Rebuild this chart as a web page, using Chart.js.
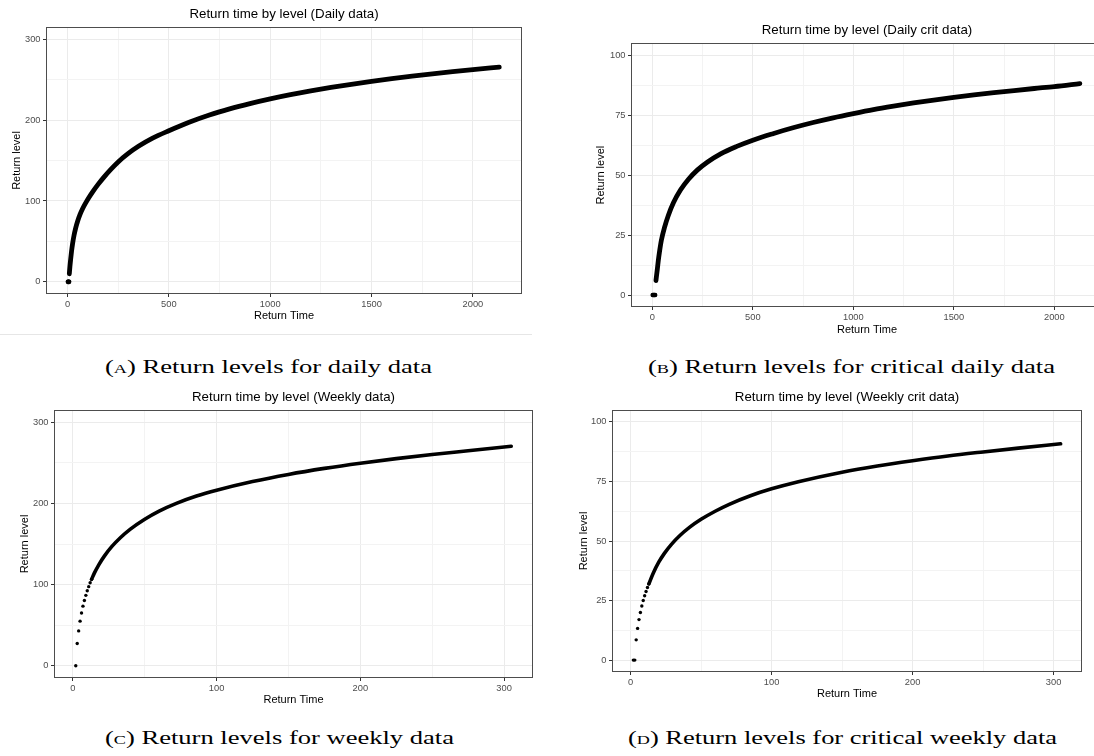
<!DOCTYPE html>
<html>
<head>
<meta charset="utf-8">
<title>Return levels</title>
<style>
    html, body { margin: 0; padding: 0; background: #fff; }
    body { width: 1094px; height: 756px; position: relative; overflow: hidden; }
    canvas { position: absolute; }
    .caption {
        position: absolute;
        font-family: "Liberation Serif", serif;
        font-size: 19px;
        line-height: 1;
        color: #000;
        white-space: nowrap;
        transform-origin: 0 0;
    }
    .sc { font-variant: small-caps; }
    .rule { position: absolute; left: 0; top: 334px; width: 532px; height: 1px; background: #e6e6e6; }
</style>
</head>
<body>
    <canvas id="chartA"></canvas>
    <canvas id="chartB"></canvas>
    <canvas id="chartC"></canvas>
    <canvas id="chartD"></canvas>
    <div class="rule"></div>

    <div class="caption" data-left="105" data-width="327" style="top:357px">(<span class="sc">a</span>) Return levels for daily data</div>
    <div class="caption" data-left="648" data-width="407" style="top:357px">(<span class="sc">b</span>) Return levels for critical daily data</div>
    <div class="caption" data-left="105" data-width="349" style="top:728px">(<span class="sc">c</span>) Return levels for weekly data</div>
    <div class="caption" data-left="628" data-width="429" style="top:728px">(<span class="sc">d</span>) Return levels for critical weekly data</div>

<script src="https://cdn.jsdelivr.net/npm/chart.js"></script>
<script>
    // values (return time, return level)
    const dailyTime  = [2, 4, 6, 8, 9, 12, 16, 20, 25, 32, 40, 50, 62, 75, 90, 105, 125, 150, 180, 215, 250, 300, 350, 420, 500, 600, 700, 800, 900, 1000, 1100, 1200, 1300, 1400, 1500, 1600, 1700, 1800, 1900, 2000, 2130];
    const dailyLevel = [0, 0, 0, 0, 10, 19, 29, 37.8, 47, 57.2, 66.2, 75, 83.4, 90.7, 97.7, 104, 111.6, 120.2, 129.5, 139.3, 148.2, 158.7, 167.5, 177.6, 186.8, 197.3, 206.3, 213.8, 220.3, 226.1, 231.3, 236, 240.3, 244.2, 247.8, 251.1, 254.2, 257.1, 259.8, 262.3, 265.4];

    const critDailyTime  = [2, 5, 8, 11, 14, 18, 25, 30, 35, 45, 60, 80, 105, 140, 180, 225, 275, 340, 420, 500, 600, 700, 800, 900, 1000, 1100, 1200, 1300, 1400, 1500, 1600, 1700, 1800, 1900, 2000, 2127];
    const critDailyLevel = [0, 0, 0, 0, 0, 6, 10.8, 14.5, 17.6, 22.8, 28, 33.3, 38.5, 43.8, 48.3, 52.2, 55.5, 58.9, 62, 64.6, 67.3, 69.75, 71.95, 73.9, 75.65, 77.3, 78.75, 80.1, 81.3, 82.4, 83.45, 84.4, 85.3, 86.15, 86.95, 88.2];

    const weeklyTime  = [2, 3, 4, 5, 6, 7, 8, 9, 10, 11, 12, 13, 15, 18, 22, 27, 33, 40, 50, 60, 72, 86, 100, 125, 150, 175, 200, 225, 250, 275, 305];
    const weeklyLevel = [0, 27.5, 43, 55, 65, 73.5, 80.5, 86.8, 92.4, 97.5, 102.2, 106.5, 114.4, 124.4, 135.4, 146.7, 157.7, 168.3, 180.5, 190.5, 200, 209, 216.2, 226.9, 235.7, 243.1, 249.5, 255.1, 260.2, 264.8, 270.3];

    const critWeeklyTime  = [2, 3, 4, 5, 6, 7, 8, 9, 10, 11, 12, 13, 16, 20, 24, 29, 35, 42, 50, 60, 70, 85, 100, 119, 150, 175, 200, 225, 250, 275, 305];
    const critWeeklyLevel = [0, 0, 8.5, 13.3, 17, 20, 22.7, 25, 27, 28.8, 30.5, 32, 36.4, 41.1, 44.8, 48.6, 52.3, 55.8, 59.1, 62.5, 65.4, 69, 71.9, 74.9, 78.9, 81.5, 83.7, 85.7, 87.4, 89, 90.8];

    // tick values (major get labels, minor only grid lines)
    const dayTicks    = [0, 500, 1000, 1500, 2000];
    const dayMinor    = [250, 750, 1250, 1750];
    const weekTicks   = [0, 100, 200, 300];
    const weekMinor   = [50, 150, 250];
    const levelTicks  = [0, 100, 200, 300];
    const levelMinor  = [50, 150, 250];
    const critTicks   = [0, 25, 50, 75, 100];
    const critMinor   = [12.5, 37.5, 62.5, 87.5];

    const FONT = "'Liberation Sans', Arial, sans-serif";
    const TITLE_SIZE = 13.3, AXIS_SIZE = 11, TICK_SIZE = 9.3;

    function pts(xs, ys, from, to) {
        const out = [];
        for (let i = from; i < to; i++) out.push({x: xs[i], y: ys[i]});
        return out;
    }

    // panel border like theme_bw
    const framePlugin = {
        id: 'frame',
        afterDatasetsDraw(chart) {
            const a = chart.chartArea, ctx = chart.ctx;
            ctx.save();
            ctx.strokeStyle = '#4d4d4d';
            ctx.lineWidth = 1;
            ctx.strokeRect(Math.round(a.left) + 0.5, Math.round(a.top) + 0.5,
                Math.round(a.right - a.left) - 1, Math.round(a.bottom - a.top) - 1);
            ctx.restore();
        }
    };

    function makeScale(range, major, minor, pad) {
        const all = major.concat(minor).sort((a, b) => a - b);
        const isMajor = v => major.indexOf(v) >= 0;
        return {
            type: 'linear',
            min: range[0],
            max: range[1],
            afterBuildTicks: s => { s.ticks = all.map(v => ({value: v})); },
            ticks: {
                autoSkip: false, maxRotation: 0, padding: pad,
                color: '#4d4d4d', font: {family: FONT, size: TICK_SIZE},
                callback: v => isMajor(v) ? String(v) : ''
            },
            grid: {
                color: c => (c.tick && isMajor(c.tick.value)) ? '#ebebeb' : '#f3f3f3',
                lineWidth: 1,
                tickLength: 3,
                tickColor: c => (c.tick && isMajor(c.tick.value)) ? '#333333' : 'rgba(0,0,0,0)'
            },
            border: { display: false }
        };
    }

    function makeChart(p) {
        const cv = document.getElementById(p.id);
        cv.width = p.box.w;
        cv.height = p.box.h;
        cv.style.left = p.box.x + 'px';
        cv.style.top = p.box.y + 'px';

        const tLH = TITLE_SIZE * 1.2, aLH = AXIS_SIZE * 1.2;
        const xs = makeScale(p.xRange, p.xMajor, p.xMinor, 1.5);
        xs.position = 'bottom';
        xs.afterFit = s => { s.height = p.box.y + p.box.h - p.frame.b; };
        xs.title = {
            display: true, text: 'Return Time', color: '#000',
            font: {family: FONT, size: AXIS_SIZE},
            padding: {top: 0, bottom: p.box.y + p.box.h - p.xTitleY - aLH / 2}
        };
        const ys = makeScale(p.yRange, p.yMajor, p.yMinor, 2.5);
        ys.position = 'left';
        ys.afterFit = s => { s.width = p.frame.l - p.box.x; };
        ys.title = {
            display: true, text: 'Return level', color: '#000',
            font: {family: FONT, size: AXIS_SIZE},
            padding: {top: p.yTitleX - p.box.x - aLH / 2, bottom: 0}
        };

        new Chart(cv, {
            type: 'scatter',
            data: {
                datasets: [{
                    data: pts(p.time, p.level, 0, p.dots),
                    pointRadius: p.dotRadius,
                    pointBackgroundColor: '#000',
                    pointBorderWidth: 0,
                    showLine: false
                }, {
                    data: pts(p.time, p.level, p.lineFrom, p.time.length),
                    showLine: true,
                    pointRadius: 0,
                    borderColor: '#000',
                    borderWidth: p.lineWidth,
                    borderCapStyle: 'round',
                    borderJoinStyle: 'round',
                    cubicInterpolationMode: 'monotone',
                    fill: false
                }]
            },
            options: {
                responsive: false,
                animation: false,
                events: [],
                layout: { padding: {left: 0, top: 0, bottom: 0, right: p.box.x + p.box.w - p.frame.r} },
                plugins: {
                    legend: { display: false },
                    tooltip: { enabled: false },
                    title: {
                        display: true, text: p.title, color: '#000', fullSize: false,
                        font: {family: FONT, size: TITLE_SIZE, weight: 'normal'},
                        padding: {top: p.titleY - p.box.y - tLH / 2, bottom: p.frame.t - p.titleY - tLH / 2}
                    }
                },
                scales: { x: xs, y: ys }
            },
            plugins: [framePlugin]
        });
    }

    makeChart({
        id: 'chartA', title: 'Return time by level (Daily data)',
        box: {x: 0, y: 0, w: 547, h: 334}, frame: {l: 46, t: 27, r: 522, b: 294},
        titleY: 14.7, xTitleY: 316, yTitleX: 16.5,
        time: dailyTime, level: dailyLevel, dots: 4, lineFrom: 4, dotRadius: 2.3, lineWidth: 4.8,
        xRange: [-106, 2242], xMajor: dayTicks, xMinor: dayMinor,
        yRange: [-15, 315], yMajor: levelTicks, yMinor: levelMinor
    });
    makeChart({
        id: 'chartB', title: 'Return time by level (Daily crit data)',
        box: {x: 549, y: 0, w: 560, h: 345}, frame: {l: 631, t: 43.3, r: 1103, b: 307},
        titleY: 30.7, xTitleY: 330, yTitleX: 601,
        time: critDailyTime, level: critDailyLevel, dots: 5, lineFrom: 5, dotRadius: 2.3, lineWidth: 4.8,
        xRange: [-106, 2242], xMajor: dayTicks, xMinor: dayMinor,
        yRange: [-5, 105], yMajor: critTicks, yMinor: critMinor
    });
    makeChart({
        id: 'chartC', title: 'Return time by level (Weekly data)',
        box: {x: 0, y: 380, w: 547, h: 330}, frame: {l: 54, t: 410, r: 533, b: 678},
        titleY: 397.3, xTitleY: 700, yTitleX: 25,
        time: weeklyTime, level: weeklyLevel, dots: 12, lineFrom: 11, dotRadius: 1.7, lineWidth: 3.6,
        xRange: [-13.15, 320.15], xMajor: weekTicks, xMinor: weekMinor,
        yRange: [-15, 315], yMajor: levelTicks, yMinor: levelMinor
    });
    makeChart({
        id: 'chartD', title: 'Return time by level (Weekly crit data)',
        box: {x: 549, y: 380, w: 545, h: 325}, frame: {l: 612, t: 410, r: 1082, b: 672},
        titleY: 397.3, xTitleY: 694, yTitleX: 583.5,
        time: critWeeklyTime, level: critWeeklyLevel, dots: 12, lineFrom: 11, dotRadius: 1.7, lineWidth: 3.6,
        xRange: [-13.15, 320.15], xMajor: weekTicks, xMinor: weekMinor,
        yRange: [-5, 105], yMajor: critTicks, yMinor: critMinor
    });

    // stretch the serif captions to the width they take in the figure
    document.querySelectorAll('.caption').forEach(el => {
        el.style.left = el.dataset.left + 'px';
        const w = el.getBoundingClientRect().width;
        el.style.transform = 'scaleX(' + (Number(el.dataset.width) / w) + ')';
    });
</script>
</body>
</html>
